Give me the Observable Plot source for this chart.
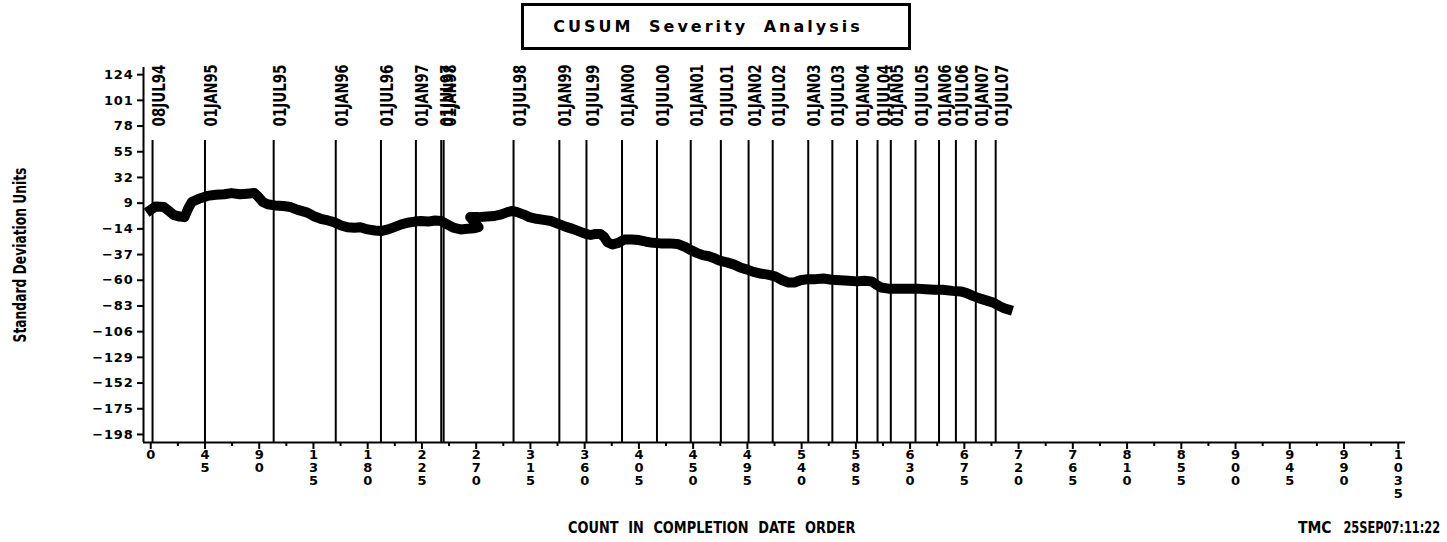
<!DOCTYPE html>
<html>
<head>
<meta charset="utf-8">
<script src="https://cdn.jsdelivr.net/npm/d3@7"></script>
<script src="https://cdn.jsdelivr.net/npm/@observablehq/plot@0.6"></script>
<style>
  body { margin: 0; background: #fff; width: 1447px; height: 542px; position: relative; overflow: hidden; font-family: "DejaVu Sans", sans-serif; color: #000; }
  #title { position: absolute; left: 521px; top: 3px; width: 390px; height: 47px; box-sizing: border-box; border: 3px solid #000; padding-right: 16px;
           display: flex; align-items: center; justify-content: center; font-weight: bold; font-size: 16px; letter-spacing: 3px; word-spacing: 7px; }
  #chart { position: absolute; left: 0; top: 56px; }
  #xlabel { position: absolute; left: 568px; top: 519px; font-weight: bold; font-size: 15px; word-spacing: 6px; white-space: nowrap;
            transform: scaleX(0.86); transform-origin: left center; }
  #tmc { position: absolute; left: 1298px; top: 518px; font-weight: bold; font-size: 16px; white-space: nowrap;
         transform: scaleX(0.87); transform-origin: left center; }
  #stamp { position: absolute; right: 7px; top: 518px; font-weight: bold; font-size: 16px; white-space: nowrap;
           transform: scaleX(0.71); transform-origin: right center; }
</style>
</head>
<body>
<div id="title">CUSUM Severity Analysis</div>
<div id="chart"></div>
<div id="xlabel">COUNT IN COMPLETION DATE ORDER</div>
<div id="tmc">TMC</div>
<div id="stamp">25SEP07:11:22</div>
<script>
// ---- data ----
const yTicks = [124, 101, 78, 55, 32, 9, -14, -37, -60, -83, -106, -129, -152, -175, -198];
const xTicks = [0, 45, 90, 135, 180, 225, 270, 315, 360, 405, 450, 495, 540, 585, 630, 675, 720, 765, 810, 855, 900, 945, 990, 1035];
const xMinorTicks = xTicks.slice(0, -1).map(t => t + 22.5);
const xDomain = [-6, 1041];
const yDomain = [-205.2, 130.4];

const refLabels = ["08JUL94","01JAN95","01JUL95","01JAN96","01JUL96","01JAN97","01JUL97","01JAN98","01JUL98","01JAN99","01JUL99","01JAN00","01JUL00","01JAN01","01JUL01","01JAN02","01JUL02","01JAN03","01JUL03","01JAN04","01JUL04","01JAN05","01JUL05","01JAN06","01JUL06","01JAN07","01JUL07"];
const refCounts = [1.5, 45, 102, 153.5, 191, 220, 241, 243, 301, 339, 361.5, 391, 420, 448, 473, 496, 516, 545.5, 565.5, 586, 603, 614, 634.5, 654, 668, 684.5, 701];

const cusumCount = [0, 4, 11, 15, 19, 24, 28, 31, 34, 40, 47, 54, 61, 67, 74, 80, 86, 89, 93, 97, 103, 110, 116, 122, 130, 136, 141, 147, 152, 158, 163, 169, 174, 180, 186, 191, 197, 202, 208, 213, 219, 224, 230, 236, 241, 246, 251, 257, 263, 268, 272,
  265, 272, 279, 285, 291, 296, 300, 304, 309, 314, 320, 326, 332, 338, 344, 350, 356, 361, 365, 369, 373, 376, 379, 383, 388, 393, 399, 405, 411, 417, 423, 430, 437, 443, 448, 453, 458, 463, 467, 472, 478, 484, 489, 495, 500, 506, 512, 518, 524, 529, 534, 539, 545, 552, 558, 565, 572, 579, 586, 592, 598, 602, 606, 612, 620, 628, 636, 643, 650, 657, 665, 672, 677, 682, 687, 693, 699, 704, 708, 711];
const cusumValue = [3, 6, 5.5, 2, -1.5, -3, -3.5, 4, 10, 13, 15.5, 16.5, 17, 18, 17, 17.5, 18, 15, 10, 8, 7, 6.5, 5.5, 3, 0.5, -3, -5, -6.5, -8, -11, -12.5, -13, -12.5, -14.5, -15.5, -16, -14.5, -12.5, -10, -8.5, -7.5, -7, -7.5, -6.5, -7, -10, -13, -14.5, -14, -13.5, -12.5,
  -3.5, -3.5, -3, -2.5, -1, 1, 2, 1, -1, -3.5, -5, -6, -7, -9.5, -12, -14, -16.5, -18.5, -19.5, -18.5, -18.5, -21, -26, -28, -26.5, -23.5, -23.5, -24, -25.5, -26.5, -27, -27, -27.5, -30, -33, -35.5, -37.5, -38.5, -40, -42.5, -44, -46, -48.5, -50.5, -52.5, -54, -55, -56.5, -60, -62, -62, -60, -59, -59, -58.5, -59.5, -60, -60.5, -61, -60.5, -61, -64, -66.5, -67.5, -67.5, -67.5, -67.5, -68, -68.5, -68.5, -69.5, -70, -71.5, -74, -76, -78, -80, -83, -85, -86];

const refs = refLabels.map((label, i) => ({label, count: refCounts[i]}));

const chart = Plot.plot({
  width: 1447,
  height: 454,
  marginLeft: 143,
  marginRight: 42,
  marginTop: 11,
  marginBottom: 68,
  style: { fontFamily: "'DejaVu Sans', sans-serif", background: "#fff", color: "#000" },
  x: { domain: xDomain },
  y: { domain: yDomain },
  marks: [
    Plot.ruleY([yDomain[0]], { strokeWidth: 2, stroke: "#000" }),
    Plot.ruleX([xDomain[0]], { strokeWidth: 2, stroke: "#000" }),
    Plot.axisY({ ticks: yTicks, tickSize: 6, tickPadding: 4, strokeWidth: 2, label: null,
                 tickFormat: d => (d < 0 ? "\u2212" : "") + Math.abs(d) }),
    Plot.text(["Standard Deviation Units"], { frameAnchor: "left", rotate: -90, dx: -123, textAnchor: "middle",
                 fontWeight: "bold", fontSize: 17 }),
    Plot.axisX({ ticks: xTicks, tickSize: 7, tickPadding: 0, strokeWidth: 2, label: null,
                 tickFormat: d => String(d).split("").join("\n") }),
    Plot.axisX({ ticks: xMinorTicks, tickSize: 4, strokeWidth: 2, tickFormat: () => "", label: null }),
    Plot.ruleX(refs, { x: "count", insetTop: 73, strokeWidth: 2, stroke: "#000" }),
    Plot.text(refs, { x: "count", text: "label", frameAnchor: "top", rotate: -90, textAnchor: "end", dy: -3,
                      fontWeight: "bold", fontSize: 17, fill: "#000" }),
    Plot.line(cusumCount, { x: cusumCount, y: cusumValue, stroke: "#000", strokeWidth: 10, strokeLinejoin: "round", strokeLinecap: "square" })
  ]
});
document.getElementById("chart").appendChild(chart);

// text styling (wide tick digits, condensed bold labels)
function styleTexts(nodes, attrs) {
  nodes.forEach(t => { for (const k in attrs) t.setAttribute(k, attrs[k]); });
}
styleTexts(chart.querySelectorAll("g[aria-label='y-axis tick label'] text"), { "font-size": 13, "font-weight": "bold", "letter-spacing": 0.8 });
styleTexts(chart.querySelectorAll("g[aria-label='x-axis tick label'] text"), { "font-size": 13, "font-weight": "bold" });
// condense rotated labels along their reading direction
function condense(nodes, target) {
  nodes.forEach(t => {
    const len = t.getComputedTextLength();
    if (len > 0) t.setAttribute("transform", (t.getAttribute("transform") || "") + ` scale(${target / len},1)`);
  });
}
const textGroups = chart.querySelectorAll("g[aria-label='text']");
condense(textGroups[0].querySelectorAll("text"), 175);
condense(textGroups[1].querySelectorAll("text"), 62);
</script>
</body>
</html>
